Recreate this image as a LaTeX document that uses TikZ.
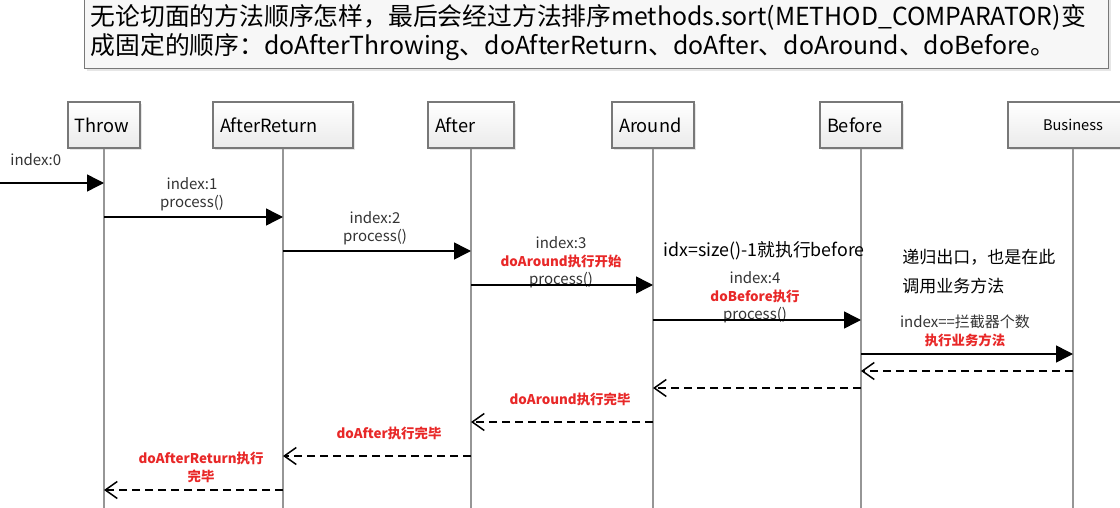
\documentclass[tikz,border=0pt]{standalone}
\usepackage{fontspec}
\setmainfont{Noto Sans CJK SC}
\usepackage{tikz}
\usetikzlibrary{arrows.meta,shadows,positioning}
\definecolor{lifegray}{RGB}{150,150,150}
\definecolor{boxgray}{RGB}{120,120,120}
\definecolor{notered}{RGB}{232,40,40}

\begin{document}
\begin{tikzpicture}[x=0.5pt,y=-0.5pt,
  head/.style={draw=boxgray, line width=0.7pt, top color=white, bottom color=black!8,
    minimum height=23pt, inner xsep=3.5pt, inner ysep=0pt, text width=#1, align=left,
    font=\fontsize{9.1}{11}\selectfont,
    drop shadow={opacity=0.2, shadow xshift=1pt, shadow yshift=-1pt}},
  life/.style={draw=lifegray, line width=1pt},
  call/.style={draw, line width=0.75pt, -{Triangle[length=8.5pt,width=8.5pt]}},
  reply/.style={draw, line width=0.75pt, dash pattern=on 4pt off 2.5pt,
    -{Straight Barb[length=6pt,width=8.5pt]}},
  lbl/.style={font=\fontsize{7.5}{9}\selectfont, text=black!80, align=center, inner sep=0pt},
  redlbl/.style={font=\bfseries\fontsize{6.7}{9}\selectfont, text=notered, align=center, inner sep=0pt},
  memo/.style={font=\fontsize{8.5}{14.5}\selectfont, anchor=west, inner sep=0pt, align=left}]
\useasboundingbox (0,0) rectangle (1120,508);

% note on top
\node[draw=boxgray, line width=0.7pt, fill=black!3, anchor=north west, text width=506pt,
  minimum height=36pt, inner xsep=3pt, align=left, font=\fontsize{12.4}{14.5}\selectfont,
  drop shadow={opacity=0.2, shadow xshift=1pt, shadow yshift=-1pt}] (title) at (84,-4)
  {无论切面的方法顺序怎样，最后会经过方法排序methods.sort(METHOD\_COMPARATOR)变\\
   成固定的顺序：doAfterThrowing、doAfterReturn、doAfter、doAround、doBefore。};

% lifeline heads
\node[head=29pt] (thr) at (104,125) {Throw};
\node[head=63pt] (aret) at (283,125) {AfterReturn};
\node[head=36pt] (aft) at (471,125) {After};
\node[head=34pt] (arnd) at (653,125) {Around};
\node[head=34pt] (bef) at (861,125) {Before};
\node[head=58pt, align=center, font=\fontsize{7.3}{9}\selectfont] (biz) at (1073,125) {Business};

\foreach \n in {thr,aret,aft,arnd,bef,biz}
  \draw[life] (\n.south) -- (\n.south |- 0,508);

% calls
\coordinate (start) at (0,183);
\node[lbl, anchor=west] (l0) at (10,160) {index:0};
\draw[call] (start) -- (thr |- start);

\node[lbl] (l1) at (192,194) {index:1\\process()};
\draw[call] (thr |- 0,217) -- (aret |- 0,217);

\node[lbl] (l2) at (375,228) {index:2\\process()};
\draw[call] (aret |- 0,251) -- (aft |- 0,251);

\node[lbl] (l3) at (561,262) {index:3\\\textcolor{notered}{\bfseries\fontsize{6.7}{9}\selectfont doAround执行开始}\\process()};
\draw[call] (aft |- 0,285) -- (arnd |- 0,285);

\node[lbl] (l4) at (755,297) {index:4\\\textcolor{notered}{\bfseries\fontsize{6.7}{9}\selectfont doBefore执行}\\process()};
\draw[call] (arnd |- 0,320) -- (bef |- 0,320);

\node[lbl] (l5) at (965,331) {index==拦截器个数\\\textcolor{notered}{\bfseries\fontsize{6.7}{9}\selectfont 执行业务方法}};
\draw[call] (bef |- 0,354) -- (biz |- 0,354);

% returns
\draw[reply] (biz |- 0,371) -- (bef |- 0,371);
\draw[reply] (bef |- 0,388) -- (arnd |- 0,388);
\node[redlbl] (r3) at (570,399) {doAround执行完毕};
\draw[reply] (arnd |- 0,422) -- (aft |- 0,422);
\node[redlbl] (r2) at (389,433) {doAfter执行完毕};
\draw[reply] (aft |- 0,456) -- (aret |- 0,456);
\node[redlbl] (r1) at (201,467) {doAfterReturn执行\\完毕};
\draw[reply] (aret |- 0,490) -- (thr |- 0,490);

% remarks
\node[memo, font=\fontsize{8.9}{14.5}\selectfont] (m1) at (663,251) {idx=size()-1就执行before};
\node[memo] (m2) at (902,272) {递归出口，也是在此\\调用业务方法};
\end{tikzpicture}
\end{document}
